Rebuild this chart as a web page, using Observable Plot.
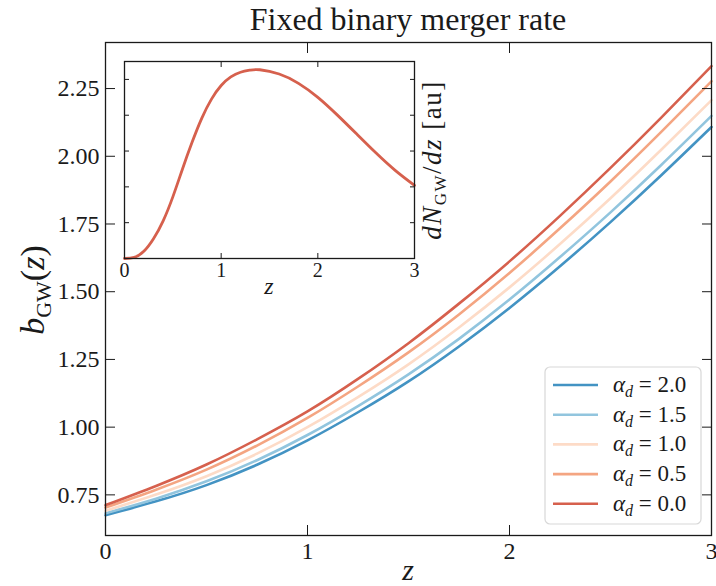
<!DOCTYPE html>
<html><head><meta charset="utf-8">
<script src="https://cdn.jsdelivr.net/npm/d3@7"></script>
<script src="https://cdn.jsdelivr.net/npm/@observablehq/plot@0.6"></script>
<style>
body{margin:0;background:#fff;}
#wrap{position:relative;width:716px;height:586px;overflow:hidden;font-family:"Liberation Serif",serif;color:#1a1a1a;}
#title{position:absolute;left:105px;width:606px;top:0px;text-align:center;font-size:32px;line-height:38px;}
#main{position:absolute;left:0;top:0;}
#inset{position:absolute;left:100px;top:50px;}
</style></head><body>
<div id="wrap"><div id="main"></div><div id="inset"></div><div id="title">Fixed binary merger rate</div></div>
<script>
// ---- data ----
const zGrid = [0, 0.25, 0.5, 0.75, 1.0, 1.25, 1.5, 1.75, 2.0, 2.25, 2.5, 2.75, 3.0];
const alphaLabels = ["2.0", "1.5", "1.0", "0.5", "0.0"];
const alphaColors = ["#4393c3", "#92c5de", "#fddbc7", "#f4a582", "#d6604d"];
const b_alpha20 = [0.675, 0.726, 0.786, 0.861, 0.951, 1.055, 1.169, 1.298, 1.440, 1.594, 1.757, 1.929, 2.108];
const b_alpha15 = [0.682, 0.736, 0.800, 0.878, 0.971, 1.078, 1.195, 1.326, 1.471, 1.628, 1.793, 1.967, 2.149];
const b_alpha10 = [0.691, 0.751, 0.819, 0.902, 1.000, 1.111, 1.232, 1.368, 1.516, 1.676, 1.845, 2.023, 2.207];
const b_alpha05 = [0.703, 0.769, 0.843, 0.932, 1.034, 1.150, 1.276, 1.416, 1.569, 1.734, 1.907, 2.089, 2.277];
const b_alpha00 = [0.712, 0.783, 0.862, 0.955, 1.058, 1.178, 1.310, 1.456, 1.612, 1.780, 1.957, 2.142, 2.333];
const mainXTicks = [0, 1, 2, 3];
const mainYTicks = [0.75, 1.00, 1.25, 1.50, 1.75, 2.00, 2.25];

const insetZ = [0, 0.1, 0.2, 0.3, 0.4, 0.5, 0.6, 0.7, 0.8, 0.9, 1.0, 1.1, 1.2, 1.3, 1.4, 1.6, 1.8, 2.0, 2.2, 2.4, 2.6, 2.8, 3.0];
const insetN = [0.0, 0.03, 0.2, 0.55, 1.05, 1.72, 2.5, 3.25, 3.92, 4.45, 4.83, 5.07, 5.2, 5.26, 5.27, 5.15, 4.89, 4.50, 4.01, 3.48, 2.95, 2.46, 2.04];
const insetXTicks = [0, 1, 2, 3];
const insetYTicks = [1, 2, 3, 4, 5];
const insetColor = "#d6604d";

// ---- main chart ----
const seriesVals = [b_alpha20, b_alpha15, b_alpha10, b_alpha05, b_alpha00];
const rows = alphaLabels.flatMap((a, i) => zGrid.map((z, j) => ({z, b: seriesVals[i][j], alpha: a})));
const FONT = '"Liberation Serif", serif';
const blank = () => "";

const main = Plot.plot({
  width: 716, height: 586,
  marginLeft: 105, marginRight: 5, marginTop: 42, marginBottom: 51,
  style: {fontFamily: FONT, fontSize: "24px", background: "transparent", color: "#1a1a1a"},
  x: {domain: [0, 3]},
  y: {domain: [0.6, 2.42]},
  color: {domain: alphaLabels, range: alphaColors},
  marks: [
    Plot.line(rows, {x: "z", y: "b", stroke: "alpha", z: "alpha", strokeWidth: 2.6, curve: "natural"}),
    Plot.axisX({anchor: "bottom", ticks: mainXTicks, tickSize: 0, tickPadding: 6, label: null, tickFormat: d3.format("d")}),
    Plot.axisX({anchor: "bottom", ticks: [1, 2], tickSize: -10, tickFormat: blank, label: null}),
    Plot.axisX({anchor: "top", ticks: [1, 2], tickSize: -10, tickFormat: blank, label: null}),
    Plot.axisY({anchor: "left", ticks: mainYTicks, tickSize: 0, tickPadding: 6, tickFormat: d3.format(".2f"), label: null}),
    Plot.axisY({anchor: "left", ticks: mainYTicks, tickSize: -10, tickFormat: blank, label: null}),
    Plot.axisY({anchor: "right", ticks: mainYTicks, tickSize: -10, tickFormat: blank, label: null}),
    Plot.frame({stroke: "#1a1a1a", strokeWidth: 1.3})
  ]
});
document.getElementById("main").appendChild(main);

const svg = d3.select(main);
// y label b_GW(z)
const yl = svg.append("text").attr("transform", "translate(44,290) rotate(-90)")
  .attr("text-anchor", "middle").attr("fill", "#1a1a1a").style("font-size", "34px");
yl.append("tspan").attr("font-style", "italic").text("b");
yl.append("tspan").style("font-size", "22px").attr("dy", 7).text("GW");
yl.append("tspan").attr("dy", -7).text("(");
yl.append("tspan").attr("font-style", "italic").text("z");
yl.append("tspan").text(")");
// x label
svg.append("text").attr("x", 408).attr("y", 580).attr("text-anchor", "middle")
  .attr("font-style", "italic").attr("fill", "#1a1a1a").style("font-size", "30px").text("z");

// legend
const lg = svg.append("g");
lg.append("rect").attr("x", 545).attr("y", 367).attr("width", 156).attr("height", 157).attr("rx", 5)
  .attr("fill", "white").attr("fill-opacity", 0.85).attr("stroke", "#d8d8d8").attr("stroke-width", 1.2);
alphaLabels.forEach((a, i) => {
  const y = 385 + i * 29.7;
  lg.append("line").attr("x1", 553).attr("x2", 598).attr("y1", y).attr("y2", y)
    .attr("stroke", alphaColors[i]).attr("stroke-width", 2.6);
  const t = lg.append("text").attr("x", 613).attr("y", y + 7).attr("text-anchor", "start")
    .attr("fill", "#1a1a1a").style("font-size", "23px");
  t.append("tspan").attr("font-style", "italic").text("α");
  t.append("tspan").attr("font-style", "italic").style("font-size", "16px").attr("dy", 5).text("d");
  t.append("tspan").attr("dy", -5).text(" = " + a);
});

// ---- inset ----
const insetRows = insetZ.map((z, i) => ({z, n: insetN[i]}));
const inset = Plot.plot({
  width: 354, height: 254,
  marginLeft: 24, marginRight: 40, marginTop: 11, marginBottom: 46,
  style: {fontFamily: FONT, fontSize: "20px", background: "transparent", color: "#1a1a1a", overflow: "visible"},
  x: {domain: [0, 3]},
  y: {domain: [0, 5.5]},
  marks: [
    Plot.frame({fill: "white", stroke: "none"}),
    Plot.line(insetRows, {x: "z", y: "n", stroke: insetColor, strokeWidth: 2.8, curve: "natural"}),
    Plot.axisX({anchor: "bottom", ticks: insetXTicks, tickSize: 0, tickPadding: 4, label: null, tickFormat: d3.format("d")}),
    Plot.axisX({anchor: "bottom", ticks: [1, 2], tickSize: -5, tickFormat: blank, label: null}),
    Plot.axisX({anchor: "top", ticks: [1, 2], tickSize: -5, tickFormat: blank, label: null}),
    Plot.axisY({anchor: "left", ticks: insetYTicks, tickSize: -5, tickFormat: blank, label: null}),
    Plot.axisY({anchor: "right", ticks: insetYTicks, tickSize: -5, tickFormat: blank, label: null}),
    Plot.frame({stroke: "#1a1a1a", strokeWidth: 1.3})
  ]
});
document.getElementById("inset").appendChild(inset);
const isvg = d3.select(inset);
isvg.append("text").attr("x", 169).attr("y", 244).attr("text-anchor", "middle")
  .attr("font-style", "italic").attr("fill", "#1a1a1a").style("font-size", "24px").text("z");
const il = isvg.append("text").attr("transform", "translate(341,110) rotate(-90)")
  .attr("text-anchor", "middle").attr("fill", "#1a1a1a").style("font-size", "27px").style("letter-spacing", "1.5px");
il.append("tspan").attr("font-style", "italic").text("dN");
il.append("tspan").style("font-size", "17px").attr("dy", 5).text("GW");
il.append("tspan").attr("dy", -5).text("/");
il.append("tspan").attr("font-style", "italic").text("dz");
il.append("tspan").text(" [au]");
</script>
</body></html>
